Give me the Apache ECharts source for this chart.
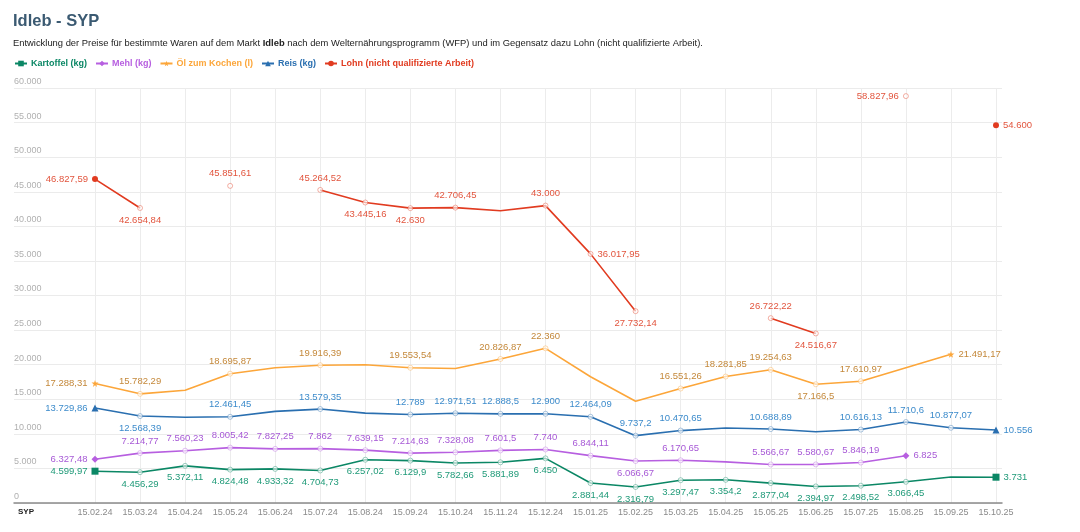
<!DOCTYPE html>
<html>
<head>
<meta charset="utf-8">
<script src="https://cdn.jsdelivr.net/npm/echarts@6/dist/echarts.min.js"></script>
<style>
html,body{margin:0;padding:0;background:#fff;}
#chart{width:1080px;height:532px;}
</style>
</head>
<body>
<div id="chart"></div>
<script>
const categories = ['15.02.24','15.03.24','15.04.24','15.05.24','15.06.24','15.07.24','15.08.24','15.09.24','15.10.24','15.11.24','15.12.24','15.01.25','15.02.25','15.03.25','15.04.25','15.05.25','15.06.25','15.07.25','15.08.25','15.09.25','15.10.25'];

const kartoffel = [4599.97,4456.29,5372.11,4824.48,4933.32,4704.73,6257.02,6129.9,5782.66,5881.89,6450,2881.44,2316.79,3297.47,3354.2,2877.04,2394.97,2498.52,3066.45,3750,3731];
const mehl = [6327.48,7214.77,7560.23,8005.42,7827.25,7862,7639.15,7214.63,7328.08,7601.5,7740,6844.11,6066.67,6170.65,5950,5566.67,5580.67,5846.19,6825,null,null];
const oel = [17288.31,15782.29,16300,18695.87,19550,19916.39,19980,19553.54,19450,20826.87,22360,18250,14700,16551.26,18281.85,19254.63,17166.5,17610.97,19550,21491.17,null];
const reis = [13729.86,12568.39,12400,12461.45,13250,13579.35,13000,12789,12971.51,12888.5,12900,12464.09,9737.2,10470.65,10850,10688.89,10300,10616.13,11710.6,10877.07,10556];
const lohn = [46827.59,42654.84,null,45851.61,null,45264.52,43445.16,42630,42706.45,42250,43000,36017.95,27732.14,null,null,26722.22,24516.67,null,58827.96,null,54600];

const yTicks = {min: 0, max: 60000, interval: 5000};

// label placement per point: l/r/t/b, '-' = no label
const labelPos = {
  kartoffel: 'lbbbbbbbbbbbbbbbbbb-r',
  mehl:      'ltttttttttttbt-tttr..',
  oel:       'lt-t-t-t-tt--tttbt-r.',
  reis:      'lb-t-t-ttttttt-t-tttr',
  lohn:      'lb.t.tbbt-trb..tb.l.r'
};

function fmt(v){
  const r = Math.round(Math.abs(v)*100)/100;
  let s = r.toString();
  let parts = s.split('.');
  let i = parts[0].replace(/\B(?=(\d{3})+(?!\d))/g, '.');
  return (v<0?'-':'') + i + (parts[1] ? ',' + parts[1] : '');
}

const FONT = "'Liberation Sans', Arial, sans-serif";
const posMap = {l:'left', r:'right', t:'top', b:'bottom'};

function fade(hex, a) {
  const n = parseInt(hex.slice(1), 16);
  return 'rgba(' + ((n>>16)&255) + ',' + ((n>>8)&255) + ',' + (n&255) + ',' + a + ')';
}

function buildSeries(name, values, pos, shape, color, labelColor) {
  let first = values.findIndex(v => v != null);
  let last = -1;
  values.forEach((v,i) => { if (v != null) last = i; });
  const data = values.map((v, i) => {
    if (v == null) return null;
    const code = pos[i];
    const item = {value: v};
    const hasLabel = code in posMap;
    if (i === first || i === last) {
      item.symbol = shape;
      item.symbolSize = shape === 'circle' ? 6 : 7;
      item.itemStyle = {color: color};
    } else if (hasLabel) {
      item.symbol = 'circle';
      item.symbolSize = 5;
      item.itemStyle = {color: 'rgba(255,255,255,0.6)', borderColor: fade(color, 0.4), borderWidth: 1};
    } else {
      item.symbol = 'none';
    }
    item.label = hasLabel ? {show: true, position: posMap[code]} : {show: false};
    return item;
  });
  return {
    name: name,
    type: 'line',
    xAxisIndex: 0,
    yAxisIndex: 0,
    data: data,
    symbol: shape,
    symbolSize: 7,
    showAllSymbol: true,
    connectNulls: false,
    color: color,
    lineStyle: {color: color, width: 1.6},
    itemStyle: {color: color},
    emphasis: {disabled: true},
    label: {
      show: true,
      distance: 4,
      color: labelColor,
      fontFamily: FONT,
      fontSize: 9.5,
      formatter: p => fmt(p.value)
    }
  };
}

const colors = {
  kartoffel: ['#0b8765', '#1f9a78'],
  mehl: ['#b75fe0', '#a759d6'],
  oel: ['#fca63a', '#c4883a'],
  reis: ['#2a6fb0', '#3c8bcb'],
  lohn: ['#e13b20', '#e2553e']
};

const names = ['Kartoffel (kg)', 'Mehl (kg)', 'Öl zum Kochen (l)', 'Reis (kg)', 'Lohn (nicht qualifizierte Arbeit)'];

const chart = echarts.init(document.getElementById('chart'), null, {renderer: 'canvas'});
chart.setOption({
  animation: false,
  backgroundColor: '#fff',
  textStyle: {fontFamily: FONT},
  title: [
    {text: 'Idleb - SYP', left: 13, top: 13, padding: 0, textStyle: {fontFamily: FONT, fontSize: 16.5, fontWeight: 'bold', color: '#3b5a72'}},
    {text: 'Entwicklung der Preise für bestimmte Waren auf dem Markt {b|Idleb} nach dem Welternährungsprogramm (WFP) und im Gegensatz dazu Lohn (nicht qualifizierte Arbeit).',
     left: 13, top: 39, padding: 0,
     textStyle: {fontFamily: FONT, fontSize: 9.4, fontWeight: 'normal', color: '#222',
       rich: {b: {fontFamily: FONT, fontSize: 9.4, fontWeight: 'bold', color: '#222'}}}}
  ],
  legend: {
    left: 14, top: 59, padding: 0,
    itemWidth: 12, itemHeight: 7, itemGap: 8,
    textStyle: {fontFamily: FONT, fontSize: 9, fontWeight: 'bold', padding: [0,0,0,-1]},
    data: [
      {name: names[0], textStyle: {color: colors.kartoffel[0]}},
      {name: names[1], textStyle: {color: colors.mehl[0]}},
      {name: names[2], textStyle: {color: colors.oel[0]}},
      {name: names[3], textStyle: {color: colors.reis[0]}},
      {name: names[4], textStyle: {color: colors.lohn[0]}}
    ],
    selectedMode: false
  },
  grid: [
    {left: 95, right: 84, top: 88, bottom: 29},
    {left: 14, right: 78, top: 88, bottom: 29}
  ],
  xAxis: [
    {
      type: 'category', gridIndex: 0, data: categories, boundaryGap: false,
      axisLine: {show: false}, axisTick: {show: false},
      axisLabel: {interval: 0, color: '#8a8a8a', fontSize: 9, fontFamily: FONT, margin: 5},
      splitLine: {show: true, lineStyle: {color: '#ececec', width: 1}}
    },
    {
      type: 'value', gridIndex: 1, min: 0, max: 1,
      axisLine: {show: true, lineStyle: {color: '#8a8a8a', width: 1.5}},
      axisTick: {show: false}, axisLabel: {show: false}, splitLine: {show: false}
    }
  ],
  yAxis: [
    {type: 'value', gridIndex: 0, min: yTicks.min, max: yTicks.max, interval: yTicks.interval, show: false},
    {
      type: 'value', gridIndex: 1, min: yTicks.min, max: yTicks.max, interval: yTicks.interval,
      axisLine: {show: false}, axisTick: {show: false},
      axisLabel: {inside: true, margin: 0, align: 'left', verticalAlign: 'bottom', padding: [0,0,2,0],
        color: '#b0b0b0', fontSize: 9, fontFamily: FONT, formatter: v => fmt(v)},
      splitLine: {show: true, lineStyle: {color: '#ebebeb', width: 1}}
    }
  ],
  graphic: [
    {type: 'text', left: 18, top: 508, style: {text: 'SYP', fill: '#222', font: "bold 8px 'Liberation Sans', Arial, sans-serif"}}
  ],
  series: [
    buildSeries(names[0], kartoffel, labelPos.kartoffel, 'rect', colors.kartoffel[0], colors.kartoffel[1]),
    buildSeries(names[1], mehl, labelPos.mehl, 'diamond', colors.mehl[0], colors.mehl[1]),
    buildSeries(names[2], oel, labelPos.oel, 'path://M50,0 L61,35 L98,35 L68,57 L79,91 L50,70 L21,91 L32,57 L2,35 L39,35 Z', colors.oel[0], colors.oel[1]),
    buildSeries(names[3], reis, labelPos.reis, 'triangle', colors.reis[0], colors.reis[1]),
    buildSeries(names[4], lohn, labelPos.lohn, 'circle', colors.lohn[0], colors.lohn[1])
  ]
});
</script>
</body>
</html>
